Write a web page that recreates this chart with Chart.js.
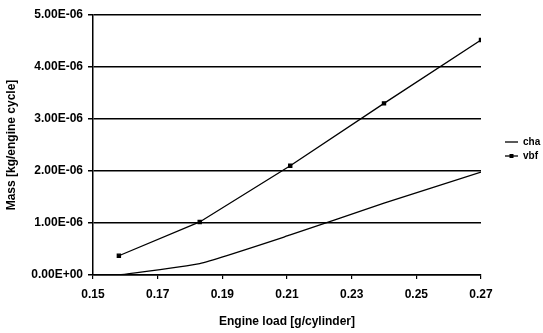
<!DOCTYPE html>
<html>
<head>
<meta charset="utf-8">
<script src="https://cdn.jsdelivr.net/npm/chart.js@4"></script>
<style>
  html, body { margin: 0; padding: 0; background: #fff; }
  #wrap { width: 543px; height: 333px; }
</style>
</head>
<body>
<div id="wrap"><canvas id="massChart" width="543" height="333"></canvas></div>
<script>
  // values
  const engineLoad = [0.158, 0.183, 0.211, 0.240, 0.270];
  const chaMass = [0.0e-6, 0.22e-6, 0.77e-6, 1.38e-6, 1.98e-6];
  const vbfMass = [0.37e-6, 1.02e-6, 2.10e-6, 3.30e-6, 4.52e-6];
  const seriesNames = ["cha", "vbf"];

  const font = "'Liberation Sans', Arial, sans-serif";

  function sci(v) {
    if (Math.abs(v) < 1e-15) return "0.00E+00";
    let e = Math.floor(Math.log10(Math.abs(v)) + 1e-9);
    let m = v / Math.pow(10, e);
    if (Math.abs(m) >= 9.995) { m = m / 10; e += 1; }
    return m.toFixed(2) + "E" + (e < 0 ? "-" : "+") + String(Math.abs(e)).padStart(2, "0");
  }

  const toPoints = ys => engineLoad.map((x, i) => ({ x, y: ys[i] }));

  // small legend on the right, like the old Excel one
  const sideLegend = {
    id: "sideLegend",
    afterDraw(chart) {
      const ctx = chart.ctx;
      const rows = [{ y: 142, marker: false }, { y: 156, marker: true }];
      ctx.save();
      ctx.strokeStyle = "#000";
      ctx.fillStyle = "#000";
      ctx.lineWidth = 1.3;
      ctx.font = "bold 10px " + font;
      ctx.textBaseline = "middle";
      rows.forEach((r, i) => {
        ctx.beginPath();
        ctx.moveTo(505, r.y);
        ctx.lineTo(518, r.y);
        ctx.stroke();
        if (r.marker) ctx.fillRect(509.5, r.y - 2, 4, 4);
        ctx.fillText(seriesNames[i], 523, r.y);
      });
      ctx.restore();
    }
  };

  new Chart(document.getElementById("massChart"), {
    type: "line",
    data: {
      datasets: [
        {
          label: seriesNames[0],
          data: toPoints(chaMass),
          borderColor: "#000",
          borderWidth: 1.3,
          pointRadius: 0,
          tension: 0.15
        },
        {
          label: seriesNames[1],
          data: toPoints(vbfMass),
          borderColor: "#000",
          backgroundColor: "#000",
          borderWidth: 1.3,
          pointStyle: "rect",
          pointRadius: 2.2,
          tension: 0
        }
      ]
    },
    options: {
      responsive: false,
      animation: false,
      layout: { padding: { left: 0, right: 62, top: 15, bottom: 0 } },
      plugins: { legend: { display: false }, tooltip: { enabled: false } },
      scales: {
        x: {
          type: "linear",
          min: 0.15,
          max: 0.27,
          afterFit(scale) { scale.height = 58; },
          border: { color: "#000", width: 1.5 },
          grid: { drawOnChartArea: false, color: "#000", tickLength: 4, lineWidth: 1.2 },
          ticks: {
            stepSize: 0.02,
            color: "#000",
            padding: 8,
            maxRotation: 0,
            font: { family: font, size: 12, weight: "bold" },
            callback: v => v.toFixed(2)
          },
          title: {
            display: true,
            text: "Engine load [g/cylinder]",
            color: "#000",
            padding: { top: 0, bottom: 4 },
            font: { family: font, size: 12, weight: "bold" }
          }
        },
        y: {
          min: 0,
          max: 5e-6,
          afterFit(scale) { scale.width = 93; },
          border: { color: "#000", width: 1.5 },
          grid: { color: "#000", lineWidth: 1.5, tickLength: 5 },
          ticks: {
            stepSize: 1e-6,
            color: "#000",
            padding: 5,
            font: { family: font, size: 12, weight: "bold" },
            callback: v => sci(v)
          },
          title: {
            display: true,
            text: "Mass [kg/engine cycle]",
            color: "#000",
            padding: { top: 4, bottom: 0 },
            font: { family: font, size: 12, weight: "bold" }
          }
        }
      }
    },
    plugins: [sideLegend]
  });
</script>
</body>
</html>
